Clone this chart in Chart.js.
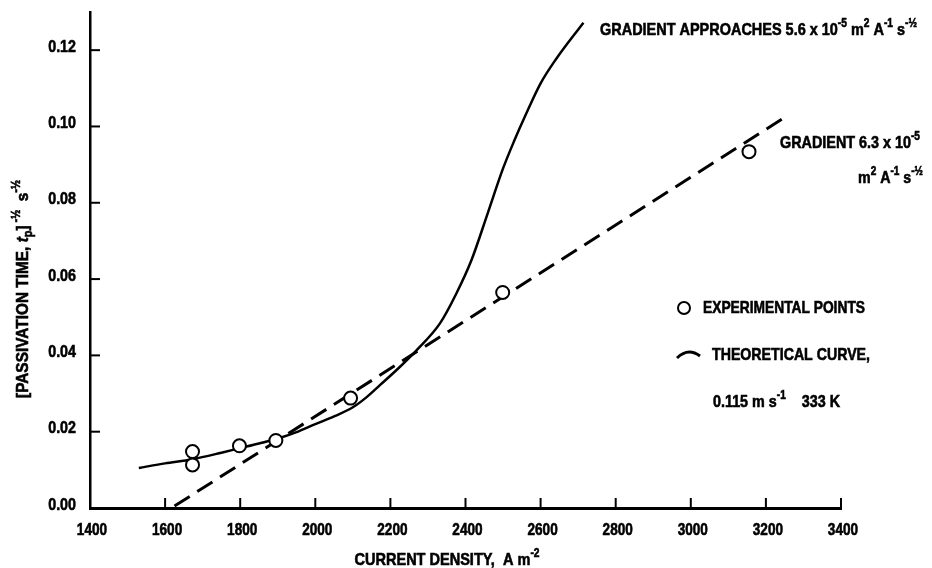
<!DOCTYPE html>
<html>
<head>
<meta charset="utf-8">
<script src="https://cdn.jsdelivr.net/npm/chart.js@4.4.1/dist/chart.umd.min.js"></script>
<style>
  html, body { margin: 0; padding: 0; background: #fff; }
  #wrap { width: 932px; height: 568px; position: relative; }
</style>
</head>
<body>
<div id="wrap"><canvas id="chart"></canvas></div>
<script>
'use strict';

// ============================================================
// DATA
// ============================================================
// experimental points
const expX = [1673, 1673, 1798, 1895, 2094, 2499, 3155];
const expY = [0.0148, 0.0113, 0.0163, 0.0177, 0.0288, 0.0565, 0.0934];

// theoretical curve, 0.115 m/s, 333 K
const curveX = [1530, 1600, 1673, 1750, 1800, 1850, 1900, 1950, 2000, 2050, 2100, 2136, 2172, 2220, 2270, 2332, 2376, 2416, 2460, 2500, 2530, 2560, 2600, 2640, 2714];
const curveY = [0.0105, 0.0117, 0.0128, 0.0145, 0.0157, 0.0169, 0.0182, 0.0199, 0.0220, 0.0240, 0.0264, 0.0290, 0.0322, 0.0365, 0.0414, 0.0484, 0.0563, 0.0650, 0.0775, 0.0890, 0.0963, 0.1030, 0.1113, 0.1175, 0.1272];

// straight line, gradient 6.3e-5
const gradX = [1625, 3255];
const gradY = [0.0005, 0.1027];

const xTicks = [1400, 1600, 1800, 2000, 2200, 2400, 2600, 2800, 3000, 3200, 3400];
const yTicks = [0, 0.02, 0.04, 0.06, 0.08, 0.10, 0.12];
const xTickLabels = xTicks.map(v => String(v));
const yTickLabels = yTicks.map(v => v.toFixed(2));

const FONT = '"Liberation Sans", Arial, sans-serif';

function pts(xs, ys) { return xs.map((x, i) => ({ x: x, y: ys[i] })); }

// rich text: parts are [text, kind], kind = '' | 'sup' | 'sub' | 'it'
function fontFor(kind, size) {
  if (kind === 'sup' || kind === 'sub') return `bold ${Math.round(size * 0.72)}px ${FONT}`;
  if (kind === 'it') return `italic bold ${size}px ${FONT}`;
  return `bold ${size}px ${FONT}`;
}
// the paper uses a heavy condensed face, so text is squeezed horizontally
function drawRich(ctx, parts, x, y, size, o) {
  o = o || {};
  const widths = parts.map(([t, k]) => { ctx.font = fontFor(k, size); return ctx.measureText(t).width; });
  const total = widths.reduce((a, b) => a + b, 0);
  const sx = o.width ? o.width / total : (o.squeeze || 0.82);
  ctx.save();
  ctx.translate(x, y);
  ctx.scale(sx, 1);
  let cx = o.align === 'center' ? -total / 2 : (o.align === 'right' ? -total : 0);
  ctx.textAlign = 'left';
  ctx.textBaseline = 'middle';
  ctx.lineWidth = 0.6;
  parts.forEach(([t, k], i) => {
    ctx.font = fontFor(k, size);
    const dy = k === 'sup' ? -size * 0.4 : (k === 'sub' ? size * 0.32 : 0);
    ctx.fillText(t, cx, dy);
    ctx.strokeText(t, cx, dy);
    cx += widths[i];
  });
  ctx.restore();
}

const paperText = {
  id: 'paperText',
  afterDraw(chart) {
    const ctx = chart.ctx;
    const xs = chart.scales.x, ys = chart.scales.y;
    const area = chart.chartArea;
    ctx.save();
    ctx.strokeStyle = '#000';
    ctx.fillStyle = '#000';

    // inward tick marks + tick labels
    xTicks.forEach((v, i) => {
      const px = xs.getPixelForValue(v);
      ctx.lineWidth = 2;
      if (i > 0) { ctx.beginPath(); ctx.moveTo(px, area.bottom); ctx.lineTo(px, area.bottom - 10); ctx.stroke(); }
      drawRich(ctx, [[xTickLabels[i], '']], px + 2, area.bottom + 22, 17, { align: 'center', squeeze: 0.8 });
    });
    yTicks.forEach((v, i) => {
      const py = ys.getPixelForValue(v);
      ctx.lineWidth = 2;
      if (i > 0) { ctx.beginPath(); ctx.moveTo(area.left, py); ctx.lineTo(area.left + 10, py); ctx.stroke(); }
      drawRich(ctx, [[yTickLabels[i], '']], area.left - 14, py - 3, 17, { align: 'right', squeeze: 0.84 });
    });

    // axis titles
    drawRich(ctx, [['CURRENT DENSITY,  A m', ''], ['-2', 'sup']], 447, 560, 17, { align: 'center', width: 185 });
    ctx.save();
    ctx.translate(23, 289);
    ctx.rotate(-Math.PI / 2);
    drawRich(ctx, [['[PASSIVATION TIME, ', ''], ['t', 'it'], ['p', 'sub'], [']', ''], [' -½', 'sup'], ['  s', ''], ['-½', 'sup']], 0, 0, 17, { align: 'center', width: 218 });
    ctx.restore();

    // annotations
    drawRich(ctx, [['GRADIENT APPROACHES 5.6 x 10', ''], ['-5', 'sup'], [' m', ''], ['2', 'sup'], [' A', ''], ['-1', 'sup'], [' s', ''], ['-½', 'sup']], 600, 30, 17, { width: 317 });
    drawRich(ctx, [['GRADIENT 6.3 x 10', ''], ['-5', 'sup']], 780, 143, 17, { width: 140 });
    drawRich(ctx, [['m', ''], ['2', 'sup'], [' A', ''], ['-1', 'sup'], [' s', ''], ['-½', 'sup']], 858, 178, 17, { width: 65 });

    // key
    ctx.lineWidth = 2;
    ctx.beginPath(); ctx.arc(684, 308, 6, 0, Math.PI * 2); ctx.stroke();
    drawRich(ctx, [['EXPERIMENTAL POINTS', '']], 703, 308, 17, { width: 162 });
    ctx.lineWidth = 3;
    ctx.beginPath(); ctx.moveTo(677, 358); ctx.quadraticCurveTo(688, 347, 700, 356); ctx.stroke();
    drawRich(ctx, [['THEORETICAL CURVE,', '']], 712, 355, 17, { width: 158 });
    drawRich(ctx, [['0.115 m s', ''], ['-1', 'sup'], ['    333 K', '']], 713, 402, 17, { width: 127 });
    ctx.restore();
  }
};

new Chart(document.getElementById('chart').getContext('2d'), {
  type: 'scatter',
  data: {
    datasets: [
      { label: 'Experimental points', data: pts(expX, expY), pointRadius: 6.5, pointBorderWidth: 2,
        pointBorderColor: '#000', pointBackgroundColor: '#fff', showLine: false },
      { label: 'Gradient 6.3e-5', data: pts(gradX, gradY), showLine: true, pointRadius: 0,
        borderColor: '#000', borderWidth: 3, borderDash: [18, 9] },
      { label: 'Theoretical curve', data: pts(curveX, curveY), showLine: true, pointRadius: 0,
        borderColor: '#000', borderWidth: 2.5, cubicInterpolationMode: 'monotone' }
    ]
  },
  options: {
    responsive: true, maintainAspectRatio: false, animation: false,
    layout: { padding: { top: 12, right: 91, left: 0, bottom: 0 } },
    plugins: { legend: { display: false }, tooltip: { enabled: false } },
    scales: {
      x: {
        type: 'linear', min: 1400, max: 3400,
        afterBuildTicks: s => { s.ticks = xTicks.map(v => ({ value: v })); },
        afterFit: s => { s.height = 60; },
        grid: { display: false, drawTicks: false },
        border: { display: true, width: 3, color: '#000' },
        ticks: { display: false }
      },
      y: {
        type: 'linear', min: 0, max: 0.13,
        afterBuildTicks: s => { s.ticks = yTicks.map(v => ({ value: v })); },
        afterFit: s => { s.width = 90; },
        grid: { display: false, drawTicks: false },
        border: { display: true, width: 2.5, color: '#000' },
        ticks: { display: false }
      }
    }
  },
  plugins: [paperText]
});
</script>
</body>
</html>
